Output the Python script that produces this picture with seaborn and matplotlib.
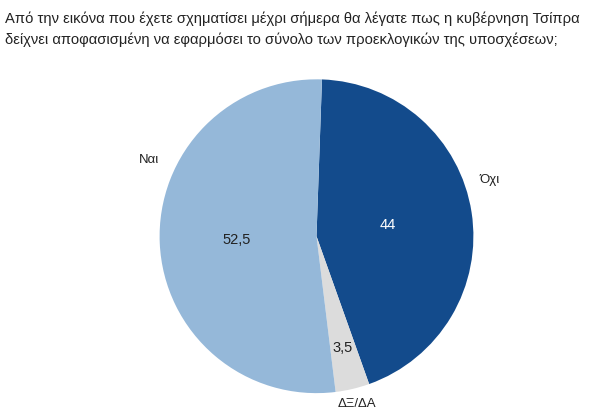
import matplotlib
matplotlib.use('Agg')
import matplotlib.pyplot as plt
import seaborn as sns
import numpy as np

sns.set_style('white')
plt.rcParams['font.family'] = ['Liberation Sans', 'DejaVu Sans']

# data
categories = ['Όχι', 'ΔΞ/ΔΑ', 'Ναι']
values = [44, 3.5, 52.5]
value_labels = ['44', '3,5', '52,5']
colors = ['#134b8c', '#dcdcdc', '#95b8d9']
title = ('Από την εικόνα που έχετε σχηματίσει μέχρι σήμερα θα λέγατε πως η κυβέρνηση Τσίπρα\n'
         'δείχνει αποφασισμένη να εφαρμόσει το σύνολο των προεκλογικών της υποσχέσεων;')

fig = plt.figure(figsize=(6, 4.17), dpi=100)
fig.text(0.008, 0.973, title, ha='left', va='top', fontsize=10.6, color='#222222', linespacing=1.55)

ax = fig.add_axes([0.266, 0.057, 0.523, 0.753])
wedges, texts = ax.pie(values, colors=colors, startangle=88, counterclock=False,
                       labels=categories, labeldistance=1.12,
                       textprops={'fontsize': 9.5, 'color': '#222222'},
                       wedgeprops={'linewidth': 0})
ax.set_xlim(-1, 1)
ax.set_ylim(-1, 1)
ax.set_aspect('equal')

# move outer labels to where the reference puts them
label_spots = {'Όχι': (18, 1.16), 'Ναι': (155.5, 1.17), 'ΔΞ/ΔΑ': (-76.6, 1.1)}
for t in texts:
    ang, r = label_spots[t.get_text()]
    t.set_position((r * np.cos(np.radians(ang)), r * np.sin(np.radians(ang))))
    t.set_ha('center')
    t.set_va('center')

# value labels inside the slices
dists = [0.46, 0.73, 0.51]
txt_colors = ['white', '#222222', '#222222']
for w, lab, d, c in zip(wedges, value_labels, dists, txt_colors):
    mid = np.radians((w.theta1 + w.theta2) / 2)
    ax.text(d * np.cos(mid), d * np.sin(mid), lab, ha='center', va='center',
            fontsize=10.5, color=c)

plt.savefig('out.png', dpi=100)
